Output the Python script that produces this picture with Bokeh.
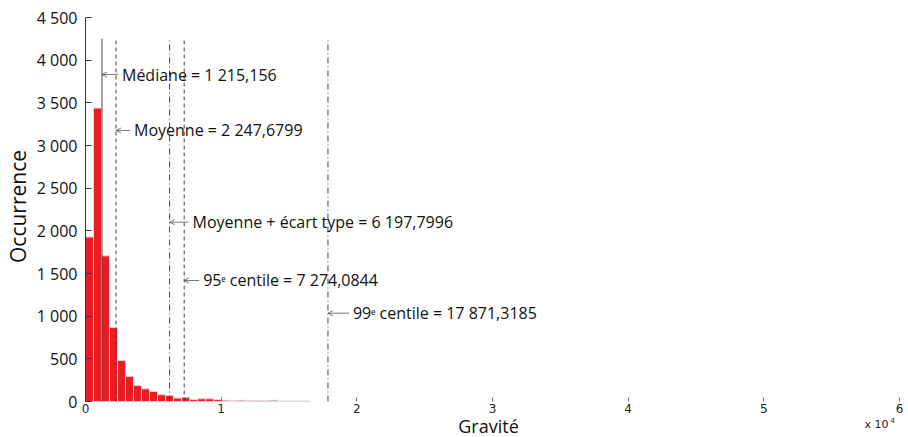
import numpy as np
from bokeh.plotting import figure
from bokeh.models import Range1d, FixedTicker, Label, Arrow, OpenHead
from bokeh.embed import file_html
from bokeh.resources import INLINE

# ---- data ----
bin_width = 590
counts = [1928, 3438, 1707, 866, 480, 295, 188, 148, 118, 80, 70, 40, 50, 22,
          32, 32, 22, 15, 8, 15, 12, 8, 8, 15, 6, 6, 6, 6]
stat_values = [1215.156, 2247.6799, 6197.7996, 7274.0844, 17871.3185]
stat_texts = ["Médiane = 1 215,156",
              "Moyenne = 2 247,6799",
              "Moyenne + écart type = 6 197,7996",
              "95ᵉ centile = 7 274,0844",
              "99ᵉ centile = 17 871,3185"]
stat_dash = ["solid", "4 3", "6 3 1 3", "4 3", "6 3 1 3"]
label_heights = [3832, 3176, 2101, 1418, 1035]
line_top = 4250
x_ticks = [0, 10000, 20000, 30000, 40000, 50000, 60000]
x_tick_labels = ["0", "1", "2", "3", "4", "5", "6"]
y_ticks = [0, 500, 1000, 1500, 2000, 2500, 3000, 3500, 4000, 4500]
y_tick_labels = ["0", "500", "1 000", "1 500", "2 000", "2 500", "3 000",
                 "3 500", "4 000", "4 500"]
XMAX, YMAX = 60000, 4500

# ---- layout (pixels) ----
W, H = 907, 437                 # canvas = frame
AX_L, AX_R = 85, 899            # pixel span of x = 0 .. XMAX
AX_T, AX_B = 17, 401            # pixel span of y = YMAX .. 0
px_x = (AX_R - AX_L) / XMAX
px_y = (AX_B - AX_T) / YMAX
x_lo, x_hi = -AX_L / px_x, (W - AX_L) / px_x
y_lo, y_hi = -(H - AX_B) / px_y, AX_B / px_y
text_offsets = [20, 18, 23, 19, 25]

p = figure(frame_width=W, frame_height=H, output_backend="svg",
           toolbar_location=None, x_range=Range1d(x_lo, x_hi),
           y_range=Range1d(y_lo, y_hi), min_border=0)
p.outline_line_color = None
p.xgrid.visible = False
p.ygrid.visible = False
p.background_fill_color = "white"
p.border_fill_color = "white"

edges = np.arange(len(counts) + 1) * bin_width
p.quad(left=edges[:-1], right=edges[1:], bottom=0, top=counts,
       fill_color="#ec1c24", line_color="#dcdcdc", line_width=1)

for xv, dash in zip(stat_values, stat_dash):
    p.segment(x0=[xv], x1=[xv], y0=[0], y1=[line_top], line_color="#444444",
              line_width=1, line_dash=dash)

for xv, txt, yv, off in zip(stat_values, stat_texts, label_heights, text_offsets):
    shaft = (off - 4) / px_x
    p.add_layout(Arrow(x_start=xv + shaft, x_end=xv, y_start=yv, y_end=yv,
                       line_color="#555555", line_width=0.8,
                       end=OpenHead(size=5, line_color="#555555", line_width=0.8)))
    p.add_layout(Label(x=xv, y=yv, x_offset=off, text=txt, text_baseline="middle",
                       text_align="left", text_font="Open Sans", text_font_size="16px",
                       text_color="#111111"))

# axes (drawn at the data origin)
p.xaxis.fixed_location = 0
p.xaxis.bounds = (0, XMAX)
p.xaxis.ticker = FixedTicker(ticks=x_ticks)
p.xaxis.major_label_overrides = dict(zip(x_ticks, x_tick_labels))
p.xaxis.axis_line_color = None
p.xaxis.major_tick_in = 4
p.xaxis.major_tick_out = 0
p.xaxis.major_tick_line_color = "#777777"
p.xaxis.minor_tick_line_color = None
p.xaxis.major_label_text_font = "DejaVu Sans"
p.xaxis.major_label_text_font_size = "12px"
p.xaxis.major_label_text_color = "#222222"
p.xaxis.major_label_standoff = 2

p.yaxis.fixed_location = 0
p.yaxis.bounds = (0, YMAX)
p.yaxis.ticker = FixedTicker(ticks=y_ticks)
p.yaxis.major_label_overrides = dict(zip(y_ticks, y_tick_labels))
p.yaxis.axis_line_color = "#333333"
p.yaxis.major_tick_in = 6
p.yaxis.major_tick_out = 0
p.yaxis.major_tick_line_color = "#333333"
p.yaxis.minor_tick_line_color = None
p.yaxis.major_label_text_font = "Open Sans"
p.yaxis.major_label_text_font_size = "16px"
p.yaxis.major_label_text_color = "#111111"
p.yaxis.major_label_standoff = 8

# axis titles
p.add_layout(Label(x=0, y=YMAX / 2, x_offset=-68, y_offset=3, angle=np.pi / 2,
                   text="Occurrence", text_align="center", text_baseline="middle",
                   text_font="Open Sans", text_font_size="21px", text_color="#111111"))
p.add_layout(Label(x=XMAX / 2, y=0, x_offset=-4, y_offset=-24, text="Gravité",
                   text_align="center", text_baseline="middle", text_font="Open Sans",
                   text_font_size="18px", text_color="#111111"))
p.add_layout(Label(x=XMAX, y=0, x_offset=-11, y_offset=-23, text="x 10",
                   text_align="right", text_baseline="middle",
                   text_font="DejaVu Sans", text_font_size="11px", text_color="#222222"))
p.add_layout(Label(x=XMAX, y=0, x_offset=-9, y_offset=-18, text="4",
                   text_align="left", text_baseline="middle",
                   text_font="DejaVu Sans", text_font_size="7px", text_color="#222222"))

open("out.html", "w").write(file_html(p, INLINE))
